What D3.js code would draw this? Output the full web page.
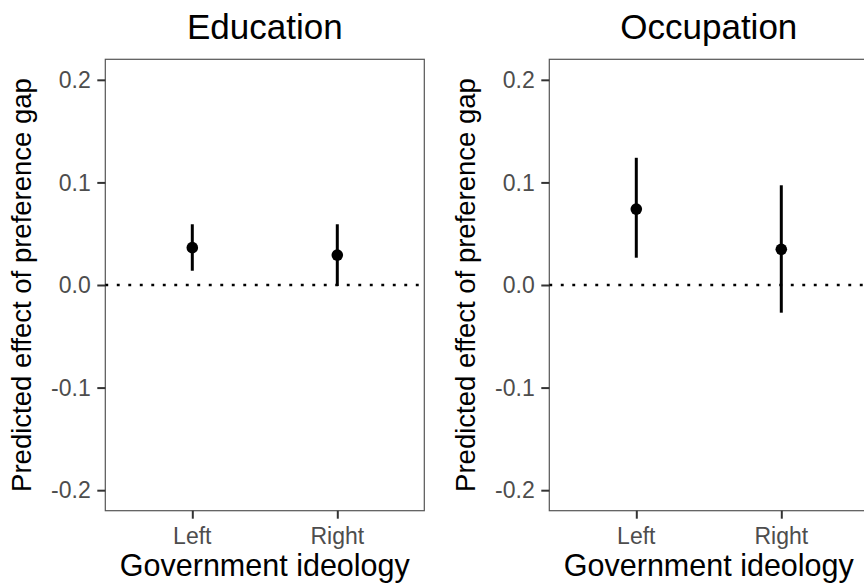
<!DOCTYPE html>
<html>
<head>
<meta charset="utf-8">
<script src="https://cdn.jsdelivr.net/npm/d3@7"></script>
<style>
  html, body { margin: 0; padding: 0; background: #fff; }
  svg { display: block; }
</style>
</head>
<body>
<svg id="chart" width="864" height="583"></svg>
<script>
// Facet panels and the government-ideology categories
const panels = ["Education", "Occupation"];
const categories = ["Left", "Right"];

// Point estimates and confidence bounds, one array per panel
const educationEst  = [0.0364, 0.0292];
const educationLow  = [0.0139, -0.001];
const educationHigh = [0.0592, 0.0592];

const occupationEst  = [0.074, 0.0348];
const occupationLow  = [0.0266, -0.027];
const occupationHigh = [0.124, 0.0972];

// Axis ticks and titles
const yTicks = [-0.2, -0.1, 0.0, 0.1, 0.2];
const yTickLabels = ["-0.2", "-0.1", "0.0", "0.1", "0.2"];
const xTitle = "Government ideology";
const yTitle = "Predicted effect of preference gap";

const seriesByPanel = [
  { name: panels[0], est: educationEst, low: educationLow, high: educationHigh },
  { name: panels[1], est: occupationEst, low: occupationLow, high: occupationHigh }
];

// Layout
const FONT = "'Liberation Sans', Arial, Helvetica, sans-serif";
const panelW = 319, panelH = 451.4;
const panelTop = 59.3;
const panelLefts = [105.3, 549.3];

const svg = d3.select("#chart");

const y = d3.scaleLinear().domain([-0.22, 0.22]).range([panelTop + panelH, panelTop]);

function label(parent, x, yy, str, size, color, anchor, rotate) {
  return parent.append("text")
    .attr("transform", `translate(${x},${yy})` + (rotate ? " rotate(-90)" : ""))
    .attr("text-anchor", anchor)
    .attr("font-family", FONT)
    .attr("font-size", size)
    .attr("fill", color)
    .text(str);
}

seriesByPanel.forEach((s, pi) => {
  const left = panelLefts[pi];
  const x = d3.scalePoint().domain(categories).range([left, left + panelW]).padding(0.6);
  const g = svg.append("g");

  // Panel border
  g.append("rect")
    .attr("x", left).attr("y", panelTop)
    .attr("width", panelW).attr("height", panelH)
    .attr("fill", "none").attr("stroke", "#555").attr("stroke-width", 1.2);

  // Reference line at zero
  g.append("line")
    .attr("x1", left).attr("x2", left + panelW)
    .attr("y1", y(0)).attr("y2", y(0))
    .attr("stroke", "#000").attr("stroke-width", 2.7)
    .attr("stroke-dasharray", "2.9 8.6");

  // Y axis ticks
  const yAxis = d3.axisLeft(y).tickValues(yTicks).tickSize(8).tickFormat("");
  const ya = g.append("g").attr("transform", `translate(${left},0)`).call(yAxis);
  ya.select(".domain").remove();
  ya.selectAll(".tick line").attr("stroke", "#333").attr("stroke-width", 2);
  yTicks.forEach((v, i) => {
    label(g, left - 14.6, y(v) + 8.2, yTickLabels[i], 23, "#4d4d4d", "end");
  });

  // X axis ticks
  const xAxis = d3.axisBottom(x).tickSize(8).tickFormat("");
  const xa = g.append("g").attr("transform", `translate(0,${panelTop + panelH})`).call(xAxis);
  xa.select(".domain").remove();
  xa.selectAll(".tick line").attr("stroke", "#333").attr("stroke-width", 2);
  categories.forEach(c => {
    label(g, x(c), panelTop + panelH + 33, c, 23, "#4d4d4d", "middle");
  });

  // Confidence intervals
  g.selectAll("line.ci").data(categories).join("line")
    .attr("class", "ci")
    .attr("x1", c => x(c)).attr("x2", c => x(c))
    .attr("y1", (c, i) => y(s.low[i])).attr("y2", (c, i) => y(s.high[i]))
    .attr("stroke", "#000").attr("stroke-width", 3);

  // Point estimates
  g.selectAll("circle.pt").data(categories).join("circle")
    .attr("class", "pt")
    .attr("cx", c => x(c)).attr("cy", (c, i) => y(s.est[i]))
    .attr("r", 5.8)
    .attr("fill", "#000");

  // Titles
  label(g, left + panelW / 2, 39, s.name, 35, "#000", "middle");
  label(g, left + panelW / 2, 576, xTitle, 30.5, "#000", "middle");
  label(g, left - 74, panelTop + panelH / 2, yTitle, 27.5, "#000", "middle", true);
});
</script>
</body>
</html>
